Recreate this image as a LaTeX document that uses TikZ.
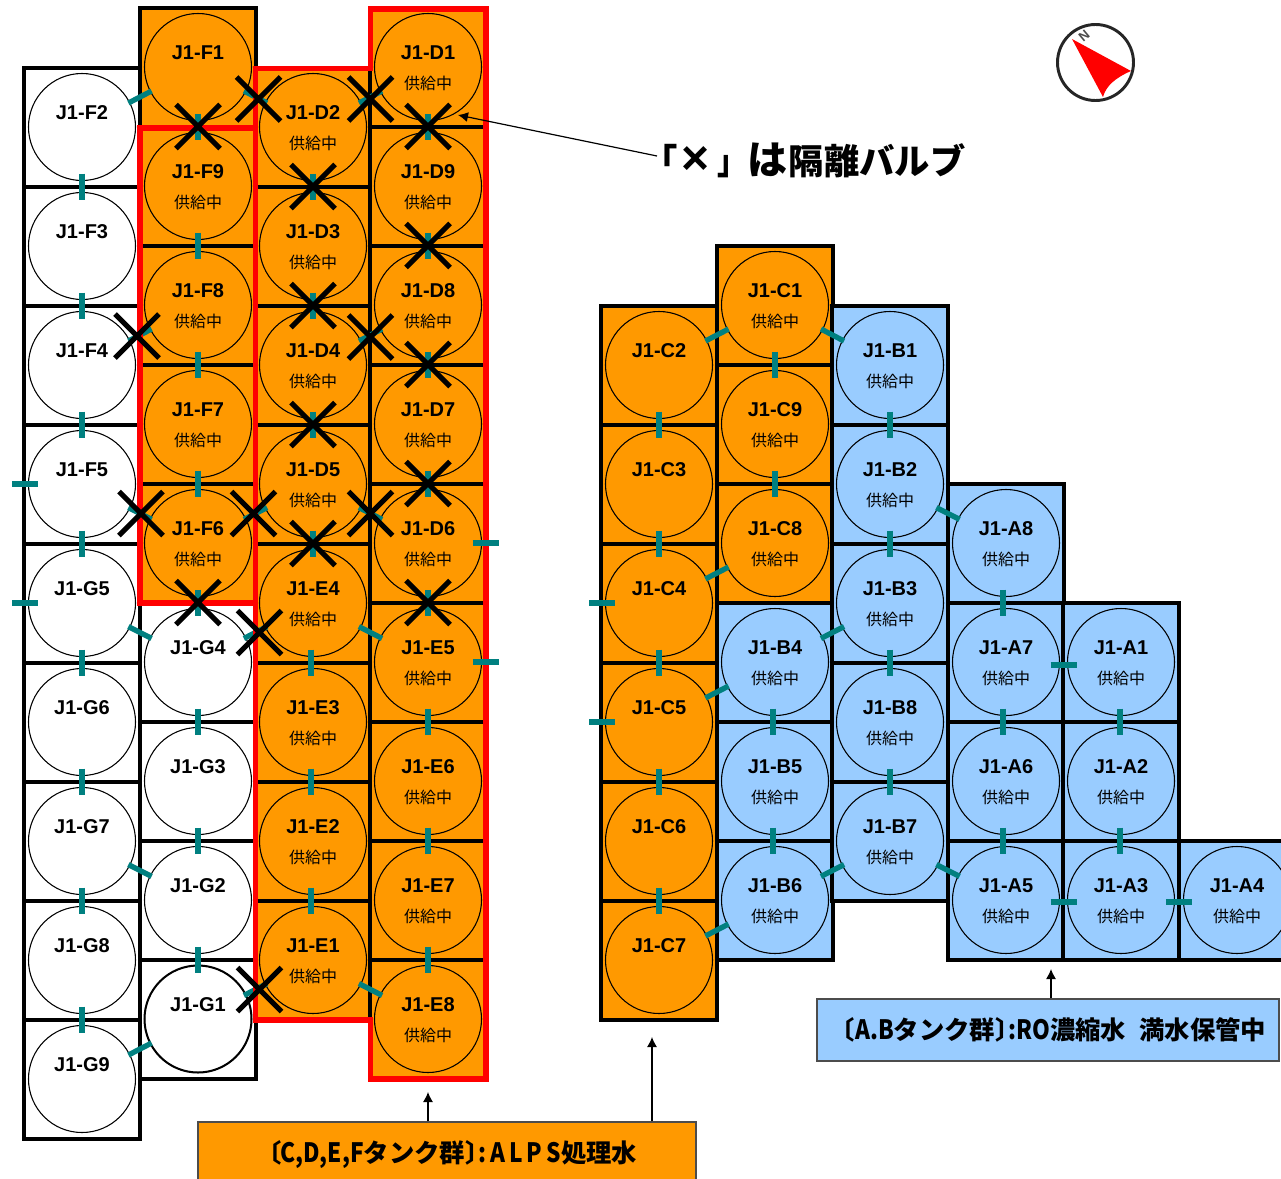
\documentclass[tikz,border=0pt]{standalone}
\usepackage{fontspec}
\setmainfont{Liberation Sans}
\newfontfamily\cjk{Noto Sans CJK JP}
\newfontfamily\narrowcjk[FakeStretch=.85]{Noto Sans CJK JP}
\usepackage{xcolor}
\usetikzlibrary{arrows.meta,calc,shapes.misc}
\definecolor{tankorange}{RGB}{255,153,0}
\definecolor{tankblue}{RGB}{153,204,255}
\definecolor{pipeteal}{RGB}{0,128,128}
\newcommand{\onsupply}{供給中}
\newcommand{\nosupply}{\phantom{供給中}}
\newcommand{\pipe}[2]{\draw[pipe] ($(#1)!.5!(#2)!9.75pt!(#1)$) -- ($(#1)!.5!(#2)!9.75pt!(#2)$);}
\tikzset{
  cell/.style={draw=black,line width=3pt,minimum width=86.6pt,minimum height=89.25pt,inner sep=0pt,outer sep=0pt},
  tank/.style={circle,draw=black,line width=.8pt,minimum size=80.25pt,inner sep=0pt,align=center,
    font=\fontsize{15}{22.5}\selectfont\bfseries},
  pipe/.style={draw=pipeteal,line width=4pt},
  valve/.style={cross out,draw=black,line width=3.75pt,minimum size=33pt,inner sep=0pt,outer sep=0pt},
  redline/.style={draw=red,line width=4pt,miter limit=10},
  infobox/.style={draw=black!70,line width=.8pt,inner sep=0pt,
    font=\cjk\fontsize{19}{19}\selectfont\bfseries},
  callout/.style={-{Latex[length=7.5pt,width=7.5pt]},black,line width=.9pt}
}
\begin{document}
\begin{tikzpicture}[x=.75pt,y=-.75pt]
\useasboundingbox (0,0) rectangle (1281,1178);
% tanks, one column piece at a time
\foreach \cellfill/\st/\x/\y/\tanks in {
  white/\nosupply/82/127/{F2,F3,F4,F5,G5,G6,G7,G8,G9},
  tankorange/\nosupply/198/67/{F1},
  tankorange/\onsupply/198/186/{F9,F8,F7,F6},
  white/\nosupply/198/662/{G4,G3,G2,G1},
  tankorange/\onsupply/313/127/{D2,D3,D4,D5,E4,E3,E2,E1},
  tankorange/\onsupply/428/67/{D1,D9,D8,D7,D6,E5,E6,E7,E8},
  tankorange/\nosupply/659/365/{C2,C3,C4,C5,C6,C7},
  tankorange/\onsupply/775/305/{C1,C9,C8},
  tankblue/\onsupply/775/662/{B4,B5,B6},
  tankblue/\onsupply/890/365/{B1,B2,B3,B8,B7},
  tankblue/\onsupply/1006/543/{A8,A7,A6,A5},
  tankblue/\onsupply/1121/662/{A1,A2,A3},
  tankblue/\onsupply/1237/900/{A4}}{
  \foreach \nm [count=\i from 0] in \tanks {
    \node[cell,fill=\cellfill] (cell\nm) at (\x,\y+119*\i) {};
    \node[tank] (\nm) at (\x,\y+119*\i) {\rule{0pt}{12.3pt}J1-\nm\\{\cjk\mdseries\fontsize{12}{22.5}\selectfont\st}};
  }
}
\node[circle,draw=black,line width=1.5pt,minimum size=80.25pt,inner sep=0pt] (ringG1) at (G1) {};
% pipes between tanks
\foreach \a/\b in {F2/F1,F2/F3,F3/F4,F4/F5,F5/G5,G5/G6,G6/G7,G7/G8,G8/G9,F4/F8,F5/F6,G5/G4,G7/G2,G9/G1,
  F1/F9,F9/F8,F8/F7,F7/F6,F6/G4,G4/G3,G3/G2,G2/G1,F1/D2,F6/D5,G4/E4,G1/E1,
  D2/D3,D3/D4,D4/D5,D5/E4,D2/D1,D4/D8,D5/D6,E4/E5,E1/E8,
  D1/D9,D9/D8,D8/D7,D7/D6,D6/E5,E5/E6,E6/E7,E7/E8,
  C2/C3,C3/C4,C4/C5,C5/C6,C6/C7,C2/C1,C4/C8,C5/B4,C7/B6,
  C1/C9,C9/C8,C1/B1,B4/B3,B6/B7,
  B1/B2,B2/B3,B3/B8,B8/B7,B2/A8,B7/A5}{
  \pipe{\a}{\b}
}
% these sit a little off the centre line
\foreach \dx/\dy/\pipes in {-2/0/{E4/E3,E3/E2,E2/E1,B4/B5,B5/B6},-3/0/{A8/A7,A7/A6,A6/A5},-1/0/{A1/A2,A2/A3},
  0/3/{A7/A1},0/2/{A5/A3,A3/A4}}{
  \begin{scope}[pipe/.append style={transform canvas={xshift=\dx*.75pt,yshift=-\dy*.75pt}}]
    \foreach \a/\b in \pipes {\pipe{\a}{\b}}
  \end{scope}
}
% red outlines
\draw[redline] (140,128) rectangle (255.5,603);
\draw[redline] (370.5,9) -- (486,9) -- (486,1079) -- (370.5,1079) -- (370.5,1020) -- (255.5,1020) -- (255.5,68.5) -- (370.5,68.5) -- cycle;
% outlets on the outer walls
\foreach \nm/\dx in {F5/-115,G5/-115,C4/-115,C5/-115,D6/115,E5/115}{
  \coordinate (out\nm) at ($(\nm)+(\dx,0)$);
  \pipe{\nm}{out\nm}
}
% isolation valves
\foreach \a/\b/\dx/\dy in {F1/F9/0/0,F1/D2/3/2,D2/D1/0/2,D1/D9/0/0,D2/D3/0/0,D9/D8/0/0,D3/D4/0/0,D8/D7/0/0,
  F4/F8/-3/1,D4/D8/0/2,D4/D5/0/0,D7/D6/0/0,F5/F6/1/0,F6/D5/-2/0,D5/D6/0/0,
  D5/E4/0/0,D6/E5/0/0,F6/G4/0/0,G4/E4/4/0,G1/E1/4/0}{
  \node[valve] (valve\a\b) at ($(\a)!.5!(\b)+(\dx,\dy)$) {};
}
% compass
\node[circle,draw=black!85,line width=2.2pt,minimum size=57pt,inner sep=0pt] (compass) at (1095.5,62.5) {};
\fill[red] (1072,39) -- (1131,71) .. controls (1115,78) and (1106,86) .. (1103,97) -- cycle;
\node[rotate=40,text=black!70,font=\fontsize{10}{10}\selectfont\bfseries,inner sep=0pt] (north) at (1084,36) {N};
% notes and their arrows
\node[anchor=west,inner sep=0pt,font=\cjk\fontsize{26.5}{26.5}\selectfont\bfseries] (isonote) at (642,160)
  {「{\normalfont\bfseries\hspace{2.6pt}\fontsize{36}{36}\selectfont ×\hspace{2.6pt}}\hspace{3.75pt}{\narrowcjk\bfseries\fontsize{26.5}{26.5}\selectfont 」}{\fontsize{30}{30}\selectfont は}\hspace{1pt}隔離バルブ};
\coordinate (tipvalve) at (458,115);
\draw[callout] ($(isonote.west)+(15,-4)$) -- (tipvalve);
\node[infobox,fill=tankorange,minimum width=373.5pt,minimum height=49.5pt] (alpsbox) at (447,1155)
  {〔\hspace{-1.5pt}{\narrowcjk\fontsize{20}{20}\selectfont C,D,E,F}タンク群〕\hspace{-9pt}{\narrowcjk\fontsize{20}{20}\selectfont :\hspace{3pt}A\hspace{3pt}L\hspace{3pt}P\hspace{3pt}S}処理水\hspace{14pt}};
\node[infobox,fill=tankblue,minimum width=346.5pt,minimum height=46.5pt] (robox) at (1048,1030)
  {〔\hspace{0pt}{\narrowcjk\fontsize{20}{20}\selectfont A.B}タンク群〕\hspace{-9pt}{\narrowcjk\fontsize{20}{20}\selectfont :RO}濃縮水\hspace{10pt}満水保管中\hspace{8pt}};
\coordinate (tipE) at (428,1092);
\coordinate (tipC) at (652,1037);
\coordinate (tipA) at (1051,969);
\draw[callout] (alpsbox.north -| tipE) -- (tipE);
\draw[callout] (alpsbox.north -| tipC) -- (tipC);
\draw[callout] (robox.north -| tipA) -- (tipA);
\end{tikzpicture}
\end{document}
